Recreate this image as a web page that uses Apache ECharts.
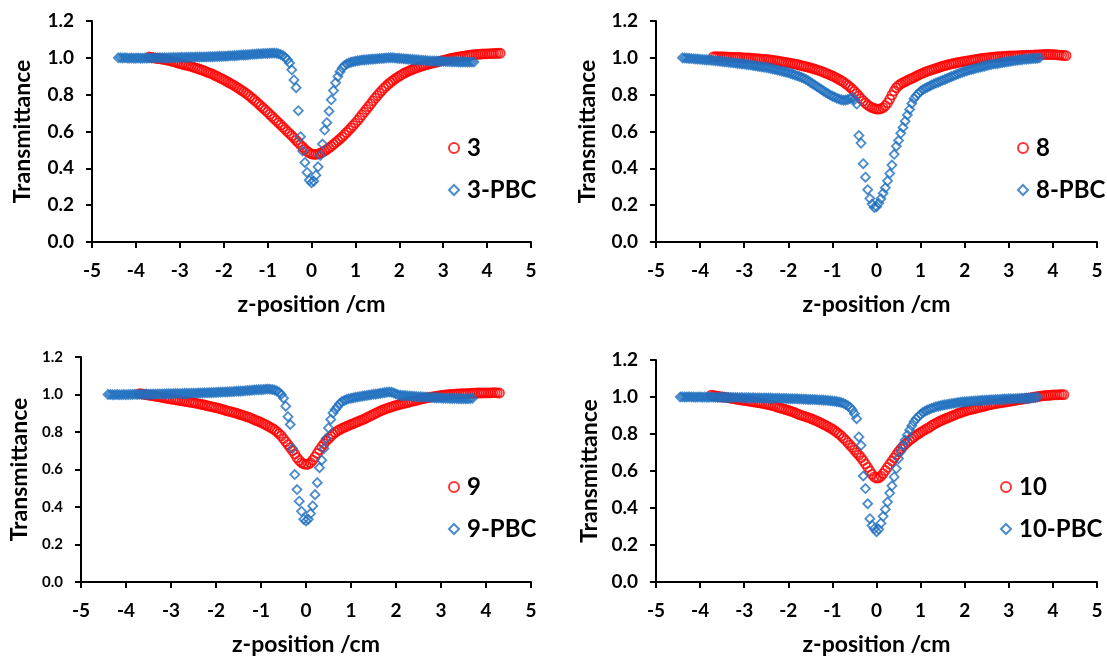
<!DOCTYPE html>
<html>
<head>
<meta charset="utf-8">
<style>
  html, body { margin: 0; padding: 0; background: #ffffff; }
  #chart { width: 1107px; height: 657px; }
</style>
<script src="https://cdn.jsdelivr.net/npm/echarts@6/dist/echarts.min.js"></script>
</head>
<body>
<div id="chart"></div>
<script>
// Open-aperture z-scan traces: normalized transmittance vs. sample position.
// Each trace is sampled on a uniform 0.05 cm grid starting at its own z0.
const Z_STEP = 0.05;

const xTicks = [-5, -4, -3, -2, -1, 0, 1, 2, 3, 4, 5];
const yTicks = [0.0, 0.2, 0.4, 0.6, 0.8, 1.0, 1.2];

const sampleNames = ['3', '8', '9', '10'];
const pbcNames = ['3-PBC', '8-PBC', '9-PBC', '10-PBC'];

const sampleStarts = [-3.70, -3.70, -3.70, -3.75];
const pbcStarts = [-4.40, -4.40, -4.40, -4.45];

const t3 = [
  1.005, 1.003, 1.000, 0.998, 0.996, 0.995, 0.993, 0.990, 0.988, 0.986,
  0.983, 0.979, 0.976, 0.972, 0.969, 0.966, 0.962, 0.960, 0.957, 0.954,
  0.950, 0.946, 0.942, 0.938, 0.934, 0.930, 0.925, 0.920, 0.916, 0.911,
  0.905, 0.899, 0.893, 0.887, 0.881, 0.875, 0.868, 0.861, 0.855, 0.848,
  0.840, 0.833, 0.825, 0.817, 0.809, 0.800, 0.790, 0.780, 0.770, 0.760,
  0.749, 0.738, 0.727, 0.716, 0.705, 0.693, 0.682, 0.670, 0.659, 0.647,
  0.636, 0.624, 0.612, 0.600, 0.589, 0.577, 0.565, 0.552, 0.540, 0.527,
  0.515, 0.503, 0.492, 0.484, 0.478, 0.476, 0.476, 0.478, 0.482, 0.488,
  0.495, 0.503, 0.511, 0.520, 0.530, 0.540, 0.550, 0.560, 0.571, 0.583,
  0.595, 0.607, 0.620, 0.633, 0.646, 0.660, 0.675, 0.690, 0.705, 0.720,
  0.735, 0.750, 0.766, 0.781, 0.795, 0.809, 0.822, 0.835, 0.846, 0.857,
  0.867, 0.876, 0.885, 0.893, 0.901, 0.908, 0.915, 0.921, 0.927, 0.932,
  0.937, 0.942, 0.946, 0.950, 0.954, 0.958, 0.962, 0.965, 0.968, 0.971,
  0.974, 0.977, 0.980, 0.983, 0.986, 0.989, 0.992, 0.995, 0.998, 1.000,
  1.003, 1.005, 1.007, 1.009, 1.011, 1.013, 1.014, 1.016, 1.017, 1.018,
  1.019, 1.020, 1.021, 1.021, 1.022, 1.023, 1.023, 1.024, 1.024, 1.025,
  1.025
];

const t3pbc = [
  1.000, 1.000, 0.999, 1.000, 0.999, 0.998, 0.999, 0.998, 0.998, 0.999,
  0.998, 0.998, 0.999, 0.998, 0.999, 0.999, 1.000, 0.999, 1.000, 1.000,
  1.000, 1.001, 1.000, 1.001, 1.001, 1.002, 1.001, 1.002, 1.002, 1.003,
  1.002, 1.003, 1.003, 1.004, 1.003, 1.004, 1.004, 1.005, 1.004, 1.005,
  1.005, 1.006, 1.006, 1.006, 1.007, 1.007, 1.008, 1.008, 1.009, 1.009,
  1.010, 1.011, 1.011, 1.012, 1.013, 1.014, 1.015, 1.016, 1.016, 1.017,
  1.018, 1.019, 1.020, 1.021, 1.022, 1.022, 1.023, 1.024, 1.024, 1.025,
  1.025, 1.026, 1.025, 1.022, 1.018, 1.012, 1.003, 0.990, 0.972, 0.935,
  0.880, 0.838, 0.713, 0.572, 0.494, 0.432, 0.378, 0.335, 0.322, 0.330,
  0.363, 0.408, 0.470, 0.532, 0.608, 0.648, 0.710, 0.772, 0.822, 0.865,
  0.898, 0.925, 0.945, 0.958, 0.966, 0.972, 0.976, 0.979, 0.982, 0.984,
  0.986, 0.988, 0.989, 0.990, 0.991, 0.992, 0.993, 0.994, 0.995, 0.996,
  0.997, 0.998, 0.999, 1.000, 1.001, 1.000, 0.999, 0.998, 0.997, 0.996,
  0.995, 0.994, 0.993, 0.992, 0.991, 0.990, 0.989, 0.988, 0.987, 0.986,
  0.985, 0.984, 0.984, 0.983, 0.983, 0.982, 0.982, 0.981, 0.981, 0.980,
  0.980, 0.980, 0.979, 0.979, 0.979, 0.978, 0.978, 0.978, 0.978, 0.977,
  0.977, 0.977, 0.977
];

const t8 = [
  1.005, 1.006, 1.006, 1.005, 1.006, 1.005, 1.005, 1.004, 1.004, 1.003,
  1.003, 1.002, 1.002, 1.001, 1.000, 1.000, 0.999, 0.998, 0.997, 0.996,
  0.995, 0.994, 0.993, 0.992, 0.991, 0.990, 0.988, 0.987, 0.985, 0.983,
  0.981, 0.979, 0.977, 0.975, 0.973, 0.971, 0.969, 0.966, 0.964, 0.961,
  0.958, 0.955, 0.952, 0.949, 0.946, 0.943, 0.939, 0.935, 0.931, 0.927,
  0.922, 0.917, 0.912, 0.907, 0.902, 0.896, 0.890, 0.883, 0.876, 0.869,
  0.860, 0.851, 0.841, 0.830, 0.818, 0.806, 0.792, 0.778, 0.766, 0.754,
  0.744, 0.736, 0.730, 0.725, 0.722, 0.721, 0.724, 0.730, 0.740, 0.755,
  0.775, 0.798, 0.820, 0.838, 0.850, 0.858, 0.865, 0.871, 0.877, 0.883,
  0.888, 0.894, 0.900, 0.906, 0.912, 0.917, 0.922, 0.927, 0.931, 0.935,
  0.939, 0.943, 0.947, 0.951, 0.955, 0.958, 0.961, 0.964, 0.967, 0.970,
  0.972, 0.975, 0.977, 0.979, 0.981, 0.983, 0.985, 0.987, 0.989, 0.991,
  0.993, 0.995, 0.997, 0.998, 1.000, 1.001, 1.002, 1.004, 1.005, 1.006,
  1.007, 1.008, 1.008, 1.009, 1.010, 1.010, 1.011, 1.011, 1.012, 1.012,
  1.013, 1.013, 1.014, 1.014, 1.015, 1.015, 1.016, 1.016, 1.017, 1.017,
  1.018, 1.018, 1.018, 1.018, 1.017, 1.017, 1.016, 1.015, 1.014, 1.013,
  1.012
];

const t8pbc = [
  1.000, 0.999, 0.998, 0.997, 0.996, 0.995, 0.994, 0.993, 0.992, 0.991,
  0.990, 0.989, 0.988, 0.987, 0.985, 0.984, 0.983, 0.982, 0.980, 0.979,
  0.977, 0.976, 0.975, 0.973, 0.972, 0.970, 0.969, 0.967, 0.966, 0.964,
  0.962, 0.961, 0.959, 0.957, 0.955, 0.953, 0.951, 0.949, 0.947, 0.945,
  0.942, 0.940, 0.937, 0.934, 0.931, 0.928, 0.925, 0.922, 0.919, 0.915,
  0.911, 0.907, 0.903, 0.899, 0.894, 0.889, 0.883, 0.876, 0.868, 0.860,
  0.852, 0.844, 0.836, 0.828, 0.820, 0.812, 0.805, 0.798, 0.792, 0.787,
  0.781, 0.776, 0.772, 0.770, 0.771, 0.774, 0.778, 0.785, 0.772, 0.749,
  0.578, 0.537, 0.425, 0.352, 0.284, 0.236, 0.206, 0.188, 0.192, 0.210,
  0.235, 0.265, 0.294, 0.332, 0.372, 0.418, 0.476, 0.520, 0.551, 0.590,
  0.622, 0.656, 0.690, 0.720, 0.752, 0.778, 0.794, 0.807, 0.818, 0.827,
  0.834, 0.840, 0.846, 0.852, 0.858, 0.863, 0.868, 0.873, 0.878, 0.883,
  0.888, 0.893, 0.898, 0.903, 0.908, 0.913, 0.918, 0.922, 0.926, 0.930,
  0.934, 0.937, 0.940, 0.943, 0.946, 0.949, 0.952, 0.955, 0.958, 0.961,
  0.964, 0.966, 0.968, 0.970, 0.972, 0.974, 0.976, 0.978, 0.980, 0.982,
  0.984, 0.986, 0.987, 0.989, 0.990, 0.992, 0.993, 0.994, 0.995, 0.996,
  0.997, 0.998, 1.000
];

const t9 = [
  1.005, 1.003, 1.001, 0.999, 0.997, 0.995, 0.993, 0.991, 0.989, 0.987,
  0.985, 0.982, 0.980, 0.978, 0.976, 0.974, 0.972, 0.970, 0.968, 0.966,
  0.964, 0.962, 0.960, 0.958, 0.956, 0.954, 0.951, 0.949, 0.946, 0.944,
  0.941, 0.938, 0.935, 0.933, 0.930, 0.927, 0.923, 0.920, 0.916, 0.913,
  0.910, 0.907, 0.903, 0.900, 0.896, 0.893, 0.889, 0.885, 0.881, 0.876,
  0.871, 0.866, 0.861, 0.856, 0.851, 0.845, 0.839, 0.833, 0.826, 0.819,
  0.812, 0.802, 0.791, 0.779, 0.764, 0.748, 0.733, 0.717, 0.700, 0.683,
  0.663, 0.648, 0.637, 0.630, 0.627, 0.628, 0.636, 0.650, 0.667, 0.686,
  0.705, 0.722, 0.738, 0.752, 0.765, 0.777, 0.788, 0.798, 0.806, 0.813,
  0.819, 0.825, 0.830, 0.835, 0.840, 0.845, 0.850, 0.855, 0.860, 0.865,
  0.870, 0.876, 0.882, 0.888, 0.894, 0.900, 0.906, 0.912, 0.917, 0.922,
  0.926, 0.930, 0.934, 0.938, 0.942, 0.945, 0.948, 0.951, 0.954, 0.957,
  0.960, 0.963, 0.966, 0.969, 0.972, 0.975, 0.978, 0.980, 0.983, 0.985,
  0.987, 0.989, 0.991, 0.993, 0.995, 0.997, 0.998, 0.999, 1.000, 1.001,
  1.002, 1.003, 1.003, 1.004, 1.005, 1.005, 1.006, 1.006, 1.007, 1.007,
  1.008, 1.008, 1.008, 1.009, 1.009, 1.009, 1.009, 1.010, 1.010, 1.009,
  1.008
];

const t9pbc = [
  1.000, 1.000, 0.999, 0.999, 1.000, 0.999, 0.999, 1.000, 0.999, 1.000,
  1.000, 1.000, 1.001, 1.000, 1.001, 1.001, 1.001, 1.002, 1.001, 1.002,
  1.002, 1.002, 1.003, 1.003, 1.003, 1.003, 1.004, 1.004, 1.004, 1.004,
  1.005, 1.005, 1.005, 1.005, 1.006, 1.006, 1.006, 1.007, 1.007, 1.007,
  1.008, 1.008, 1.008, 1.009, 1.009, 1.010, 1.010, 1.011, 1.011, 1.012,
  1.012, 1.013, 1.013, 1.014, 1.015, 1.015, 1.016, 1.017, 1.018, 1.018,
  1.019, 1.020, 1.021, 1.022, 1.023, 1.024, 1.025, 1.026, 1.026, 1.027,
  1.028, 1.029, 1.028, 1.027, 1.024, 1.019, 1.012, 1.000, 0.980, 0.938,
  0.882, 0.840, 0.712, 0.573, 0.493, 0.431, 0.377, 0.335, 0.326, 0.335,
  0.365, 0.406, 0.466, 0.530, 0.610, 0.650, 0.712, 0.765, 0.822, 0.867,
  0.902, 0.920, 0.935, 0.952, 0.962, 0.968, 0.973, 0.977, 0.980, 0.982,
  0.985, 0.987, 0.989, 0.991, 0.993, 0.995, 0.997, 0.999, 1.001, 1.002,
  1.004, 1.006, 1.008, 1.010, 1.012, 1.013, 1.012, 1.008, 1.003, 0.998,
  0.996, 0.995, 0.994, 0.993, 0.992, 0.991, 0.990, 0.989, 0.988, 0.988,
  0.987, 0.986, 0.985, 0.985, 0.984, 0.983, 0.982, 0.982, 0.981, 0.980,
  0.980, 0.980, 0.979, 0.979, 0.979, 0.979, 0.978, 0.978, 0.978, 0.978,
  0.978, 0.979, 0.980
];

const t10 = [
  1.010, 1.008, 1.006, 1.004, 1.002, 1.000, 0.999, 0.997, 0.995, 0.993,
  0.991, 0.989, 0.987, 0.985, 0.983, 0.982, 0.980, 0.978, 0.976, 0.974,
  0.972, 0.970, 0.968, 0.966, 0.964, 0.961, 0.959, 0.956, 0.953, 0.950,
  0.945, 0.942, 0.938, 0.935, 0.931, 0.928, 0.924, 0.920, 0.915, 0.910,
  0.905, 0.901, 0.897, 0.893, 0.889, 0.885, 0.880, 0.875, 0.870, 0.864,
  0.858, 0.852, 0.846, 0.840, 0.833, 0.826, 0.818, 0.809, 0.800, 0.790,
  0.778, 0.766, 0.753, 0.740, 0.727, 0.713, 0.699, 0.686, 0.672, 0.656,
  0.638, 0.620, 0.600, 0.582, 0.568, 0.561, 0.563, 0.572, 0.586, 0.603,
  0.620, 0.637, 0.654, 0.671, 0.688, 0.705, 0.720, 0.733, 0.745, 0.756,
  0.766, 0.775, 0.784, 0.793, 0.801, 0.809, 0.816, 0.823, 0.830, 0.836,
  0.845, 0.852, 0.859, 0.865, 0.871, 0.876, 0.881, 0.886, 0.891, 0.896,
  0.901, 0.906, 0.911, 0.915, 0.919, 0.923, 0.927, 0.930, 0.933, 0.936,
  0.939, 0.942, 0.945, 0.948, 0.951, 0.954, 0.957, 0.960, 0.962, 0.964,
  0.966, 0.968, 0.970, 0.972, 0.974, 0.976, 0.978, 0.980, 0.982, 0.984,
  0.986, 0.988, 0.990, 0.992, 0.994, 0.996, 0.998, 1.000, 1.002, 1.004,
  1.006, 1.007, 1.008, 1.009, 1.010, 1.011, 1.012, 1.012, 1.013, 1.013,
  1.013
];

const t10pbc = [
  1.000, 1.001, 1.000, 1.000, 1.001, 1.000, 1.000, 0.999, 1.000, 1.000,
  0.999, 1.000, 0.999, 0.999, 1.000, 0.999, 0.999, 0.998, 0.999, 0.998,
  0.998, 0.998, 0.997, 0.998, 0.997, 0.997, 0.997, 0.996, 0.997, 0.996,
  0.996, 0.996, 0.995, 0.996, 0.995, 0.995, 0.995, 0.994, 0.995, 0.994,
  0.994, 0.994, 0.993, 0.993, 0.993, 0.993, 0.992, 0.992, 0.992, 0.991,
  0.991, 0.990, 0.990, 0.990, 0.989, 0.989, 0.988, 0.988, 0.987, 0.987,
  0.986, 0.986, 0.985, 0.984, 0.984, 0.983, 0.982, 0.981, 0.980, 0.978,
  0.977, 0.975, 0.973, 0.970, 0.966, 0.960, 0.953, 0.944, 0.930, 0.910,
  0.883, 0.784, 0.739, 0.573, 0.505, 0.423, 0.342, 0.306, 0.288, 0.272,
  0.285, 0.318, 0.355, 0.392, 0.432, 0.481, 0.520, 0.568, 0.613, 0.667,
  0.706, 0.738, 0.768, 0.795, 0.822, 0.845, 0.866, 0.882, 0.895, 0.906,
  0.916, 0.923, 0.929, 0.934, 0.939, 0.943, 0.947, 0.950, 0.953, 0.956,
  0.958, 0.960, 0.962, 0.964, 0.966, 0.968, 0.970, 0.972, 0.973, 0.974,
  0.975, 0.976, 0.977, 0.978, 0.979, 0.980, 0.981, 0.982, 0.982, 0.983,
  0.984, 0.985, 0.985, 0.986, 0.987, 0.987, 0.988, 0.989, 0.989, 0.990,
  0.990, 0.991, 0.991, 0.992, 0.992, 0.993, 0.993, 0.994, 0.994, 0.995,
  0.996, 0.998, 1.000
];

const sampleData = [t3, t8, t9, t10];
const pbcData = [t3pbc, t8pbc, t9pbc, t10pbc];

const RED = '#ff0000';
const BLUE = '#1f6fbf';
const FONT = 'Lato, "Open Sans", sans-serif';

// Pair each transmittance reading with its stage position.
function toPoints(z0, values) {
  return values.map((v, i) => [Math.round((z0 + i * Z_STEP) * 1000) / 1000, v]);
}

// Panel placement on the page, plus per-panel title gaps and legend anchors.
const panels = [
  { left: 92,  top: 21,  width: 439, height: 221, yGap: 58, yFont: 19, legendLeft: 443,  legendTop: 131 },
  { left: 656, top: 21,  width: 441, height: 221, yGap: 57, yFont: 19, legendLeft: 1012, legendTop: 131 },
  { left: 81,  top: 357, width: 450, height: 225, yGap: 50, yFont: 15, legendLeft: 443,  legendTop: 470 },
  { left: 656, top: 360, width: 441, height: 222, yGap: 55, yFont: 19, legendLeft: 995,  legendTop: 470 }
];

const grid = [], xAxis = [], yAxis = [], series = [], legend = [];

panels.forEach((p, k) => {
  grid.push({ left: p.left, top: p.top, width: p.width, height: p.height, containLabel: false });

  xAxis.push({
    gridIndex: k, type: 'value', min: xTicks[0], max: xTicks[xTicks.length - 1], interval: 1,
    name: 'z-position /cm', nameLocation: 'middle', nameGap: 51,
    nameTextStyle: { fontFamily: FONT, fontWeight: 'bold', fontSize: 23, color: '#000' },
    axisLine: { onZero: false, lineStyle: { color: '#000', width: 2 } },
    axisTick: { show: true, length: 6, lineStyle: { color: '#000', width: 2 } },
    axisLabel: { fontFamily: FONT, fontWeight: 'bold', fontSize: 19, color: '#000', margin: 19 },
    splitLine: { show: false }
  });

  yAxis.push({
    gridIndex: k, type: 'value', min: yTicks[0], max: yTicks[yTicks.length - 1], interval: 0.2,
    name: 'Transmittance', nameLocation: 'middle', nameGap: p.yGap, nameRotate: 90,
    nameTextStyle: { fontFamily: FONT, fontWeight: 'bold', fontSize: 23, color: '#000' },
    axisLine: { show: true, onZero: false, lineStyle: { color: '#000', width: 2 } },
    axisTick: { show: true, length: 6, lineStyle: { color: '#000', width: 2 } },
    axisLabel: {
      fontFamily: FONT, fontWeight: 'bold', fontSize: p.yFont, color: '#000', margin: 18,
      formatter: v => v.toFixed(1)
    },
    splitLine: { show: false }
  });

  series.push({
    name: sampleNames[k], type: 'scatter', xAxisIndex: k, yAxisIndex: k,
    symbol: 'circle', symbolSize: 9,
    itemStyle: { color: 'rgba(255,255,255,0)', borderColor: RED, borderWidth: 1.8 },
    data: toPoints(sampleStarts[k], sampleData[k]),
    silent: true, z: 2
  });
  series.push({
    name: pbcNames[k], type: 'scatter', xAxisIndex: k, yAxisIndex: k,
    symbol: 'diamond', symbolSize: 9,
    itemStyle: { color: 'rgba(255,255,255,0)', borderColor: BLUE, borderWidth: 1.8 },
    data: toPoints(pbcStarts[k], pbcData[k]),
    silent: true, z: 3
  });

  legend.push({
    left: p.legendLeft, top: p.legendTop, orient: 'vertical',
    itemWidth: 10, itemHeight: 10, itemGap: 18, selectedMode: false,
    textStyle: {
      fontFamily: FONT, fontWeight: 'bold', fontSize: 24, color: '#000',
      padding: [0, 0, 0, 3]
    },
    data: [sampleNames[k], pbcNames[k]]
  });
});

const chart = echarts.init(document.getElementById('chart'), null, { renderer: 'canvas' });
chart.setOption({
  backgroundColor: '#ffffff',
  animation: false,
  grid, xAxis, yAxis, series, legend
});
</script>
</body>
</html>
